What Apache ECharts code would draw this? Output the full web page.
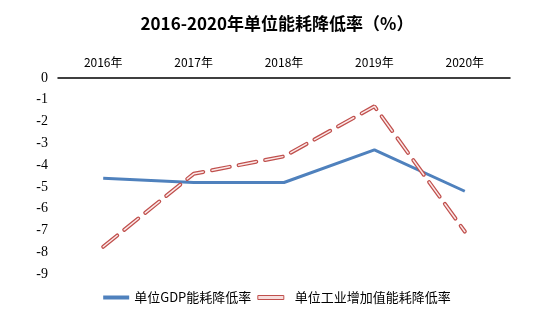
<!DOCTYPE html>
<html><head><meta charset="utf-8">
<script src="https://cdn.jsdelivr.net/npm/echarts@6/dist/echarts.min.js"></script>
<style>html,body{margin:0;padding:0;background:#fff}#c{width:554px;height:333px}</style>
</head><body><div id="c"></div>
<script>
const years = ['2016年','2017年','2018年','2019年','2020年'];
const gdpRate = [-4.6, -4.8, -4.8, -3.3, -5.2];
const industryRate = [-7.75, -4.4, -3.6, -1.3, -7.05];
const seriesNames = ['单位GDP能耗降低率','单位工业增加值能耗降低率'];
const titleText = '2016-2020年单位能耗降低率（%）';

const chart = echarts.init(document.getElementById('c'));
chart.setOption({
  animation:false,
  title:{text:titleText,left:'center',top:10,textStyle:{fontFamily:'Noto Sans CJK SC',fontSize:17,fontWeight:'bold',color:'#000'}},
  grid:{left:58,right:44,top:78,bottom:59},
  legend:{bottom:24,left:'center',itemGap:6,itemWidth:26,itemHeight:4,
    textStyle:{fontFamily:'Noto Sans CJK SC',fontSize:13,color:'#000'},
    data:[
      {name:seriesNames[0],icon:'rect',itemStyle:{color:'#4f81bd'}},
      {name:seriesNames[1],icon:'rect',itemStyle:{color:'#f7dede',borderColor:'#c0504d',borderWidth:1},textStyle:{padding:[0,0,0,6]}}
    ]},
  xAxis:{type:'category',position:'top',data:years,boundaryGap:true,
    axisLine:{lineStyle:{color:'#000',width:1.5}},axisTick:{show:false},
    axisLabel:{margin:10,fontFamily:'Noto Sans CJK SC',fontSize:12,color:'#000'}},
  yAxis:{type:'value',min:-9,max:0,interval:1,
    axisLine:{show:false},axisTick:{show:false},splitLine:{show:false},
    axisLabel:{margin:10,fontFamily:'Liberation Serif',fontSize:14,color:'#000'}},
  series:[
    {name:seriesNames[0],type:'line',data:gdpRate,symbol:'none',
      lineStyle:{color:'#4f81bd',width:3},itemStyle:{color:'#4f81bd'},z:3},
    {name:seriesNames[1],type:'line',data:industryRate,symbol:'none',
      lineStyle:{color:'#c0504d',width:4,type:[18,9],cap:'round'},itemStyle:{color:'#c0504d'},z:4},
    {name:'overlay',type:'line',data:industryRate,symbol:'none',silent:true,
      lineStyle:{color:'#fbe8e8',width:1.5,type:[18,9],cap:'round'},z:5}
  ]
});
</script></body></html>
